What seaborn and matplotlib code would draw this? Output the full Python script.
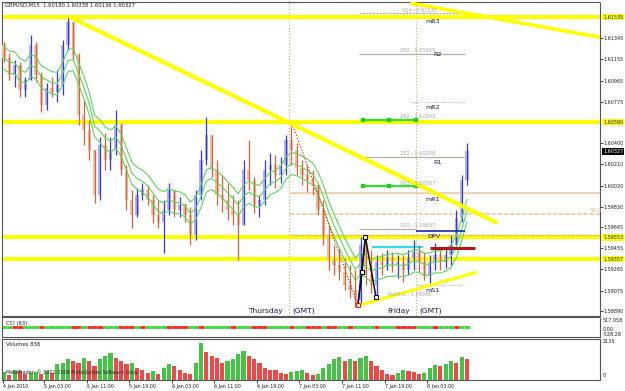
import numpy as np
import pandas as pd
import matplotlib
matplotlib.use("Agg")
import matplotlib.pyplot as plt
import matplotlib.transforms as mtransforms
from matplotlib.patches import Rectangle
import seaborn as sns

sns.set_theme(style="white")
plt.rcParams['font.family'] = ['DejaVu Sans']

# ---------------- data (hourly bars, GBPUSD) ----------------
opens = [1.61285, 1.61168, 1.61015, 1.61105, 1.6088, 1.6097, 1.61285, 1.61015, 1.60745, 1.60898,
         1.60862, 1.60925, 1.61285, 1.61492, 1.61195, 1.60655, 1.6052, 1.6034, 1.59935, 1.60385,
         1.6025, 1.6034, 1.60565, 1.6016, 1.5989, 1.59755, 1.59935, 1.5998, 1.5989, 1.59755,
         1.59692, 1.598, 1.5998, 1.598, 1.59845, 1.59755, 1.59575, 1.59935, 1.6025, 1.60475,
         1.6016, 1.59935, 1.5989, 1.598, 1.59755, 1.59665, 1.6016, 1.6007, 1.59845, 1.5989,
         1.6016, 1.60205, 1.60115, 1.60205, 1.6043, 1.6034, 1.60178, 1.60115, 1.6007, 1.60025,
         1.598, 1.59575, 1.5935, 1.59305, 1.59242, 1.59125, 1.5908, 1.5899, 1.59485, 1.59215,
         1.59125, 1.59332, 1.59305, 1.59368, 1.59305, 1.59332, 1.5926, 1.59368, 1.59422, 1.59332,
         1.59215, 1.59332, 1.59395, 1.59332, 1.59395, 1.59485, 1.59728, 1.6007]
highs = [1.61312, 1.61213, 1.6115, 1.61132, 1.60997, 1.61375, 1.61312, 1.61042, 1.60943, 1.60997,
         1.6106, 1.6133, 1.61528, 1.61492, 1.61213, 1.6079, 1.6061, 1.6034, 1.60457, 1.60493,
         1.60457, 1.607, 1.60583, 1.60205, 1.5998, 1.59998, 1.60043, 1.60025, 1.59935, 1.5989,
         1.5989, 1.60043, 1.5998, 1.59917, 1.59863, 1.59827, 1.5998, 1.6034, 1.60637, 1.60475,
         1.6025, 1.60115, 1.60043, 1.59935, 1.5989, 1.6025, 1.6043, 1.60097, 1.59935, 1.6025,
         1.60313, 1.60295, 1.60277, 1.60475, 1.60583, 1.60403, 1.6025, 1.60205, 1.6016, 1.60043,
         1.5989, 1.59665, 1.59485, 1.59467, 1.59368, 1.59305, 1.5926, 1.59557, 1.5953, 1.5944,
         1.59395, 1.59413, 1.5944, 1.59422, 1.59395, 1.59395, 1.5944, 1.5953, 1.59485, 1.59422,
         1.59395, 1.59503, 1.59458, 1.59467, 1.59575, 1.598, 1.60115, 1.60403]
lows = [1.61132, 1.6097, 1.60907, 1.60817, 1.60817, 1.6097, 1.60952, 1.60682, 1.607, 1.60817,
        1.60772, 1.60835, 1.6124, 1.6115, 1.60565, 1.60385, 1.6025, 1.59863, 1.5989, 1.6016,
        1.6016, 1.60295, 1.60115, 1.598, 1.59638, 1.59737, 1.5989, 1.59845, 1.59683, 1.59638,
        1.59413, 1.59755, 1.59737, 1.59737, 1.59692, 1.59485, 1.5953, 1.5989, 1.60205, 1.60097,
        1.59845, 1.59782, 1.5971, 1.59665, 1.5935, 1.59665, 1.5998, 1.59773, 1.59737, 1.59845,
        1.60025, 1.59998, 1.60043, 1.60115, 1.60205, 1.60115, 1.60025, 1.59962, 1.59935, 1.59755,
        1.59485, 1.5926, 1.59215, 1.5917, 1.5908, 1.59008, 1.58927, 1.58945, 1.59125, 1.59053,
        1.59017, 1.59215, 1.5926, 1.59242, 1.59188, 1.59152, 1.59215, 1.5926, 1.59242, 1.5917,
        1.59143, 1.5926, 1.5926, 1.59278, 1.59305, 1.59485, 1.59692, 1.60025]
closes = [1.61168, 1.61015, 1.61105, 1.6088, 1.6097, 1.61285, 1.61015, 1.60745, 1.60898, 1.60862,
          1.60925, 1.61285, 1.61492, 1.61195, 1.60655, 1.6052, 1.6034, 1.59935, 1.60385, 1.6025,
          1.6034, 1.60565, 1.6016, 1.5989, 1.59755, 1.59935, 1.5998, 1.5989, 1.59755, 1.59692,
          1.598, 1.5998, 1.598, 1.59845, 1.59755, 1.59575, 1.59935, 1.6025, 1.60475, 1.6016,
          1.59935, 1.5989, 1.598, 1.59755, 1.59665, 1.6016, 1.6007, 1.59845, 1.5989, 1.6016,
          1.60205, 1.60115, 1.60205, 1.6043, 1.6034, 1.60178, 1.60115, 1.6007, 1.60025, 1.598,
          1.59575, 1.5935, 1.59305, 1.59242, 1.59125, 1.5908, 1.5899, 1.59485, 1.59215, 1.59125,
          1.59332, 1.59305, 1.59368, 1.59305, 1.59332, 1.5926, 1.59368, 1.59422, 1.59332, 1.59215,
          1.59332, 1.59395, 1.59332, 1.59395, 1.59485, 1.59728, 1.6007, 1.60327]
volumes = [450, 300, 600, 500, 350, 400, 450, 350, 500, 400, 900, 1000,
           1200, 1100, 1000, 1300, 1100, 800, 1200, 1400, 1550, 1300, 1100,
           900, 1000, 700, 600, 400, 500, 350, 700, 900, 800, 550, 400, 350, 1000,
           2135, 1600, 1400, 1300, 1000, 1100, 1200, 1500, 1700, 1400, 1200, 1000,
           700, 600, 550, 400, 350, 450, 500, 550, 400, 300, 350, 700, 900,
           1200, 1350, 1100, 1200, 1100, 1300, 1400, 1100, 800, 600, 350, 300, 400,
           600, 500, 450, 350, 400, 700, 850, 800, 900, 1100, 1000, 1350, 1200]
cci_sign = [1, 1, -1, -1, 1, 1, 1, -1, 1, 1, 1, 1, 1, -1, -1, 1, -1, -1, -1, 1,
            1, 1, -1, -1, -1, 1, -1, 1, 1, 1, 1, -1, -1, -1, -1, 1, 1, -1, 1, 1,
            1, 1, 1, -1, 1, 1, 1, -1, -1, -1, 1, 1, 1, 1, -1, 1, 1, -1, -1, -1,
            1, -1, -1, 1, 1, -1, 1, 1, 1, 1, -1, 1, 1, 1, -1, -1, -1, -1, 1, 1,
            1, -1, 1, 1, 1, -1, 1, 1]

time_tick_pos = [0.3, 8, 16, 24, 32, 40, 48, 56, 64, 72, 80]
time_tick_labels = ["4 Jan 2010", "5 Jan 03:00", "5 Jan 11:00", "5 Jan 19:00", "6 Jan 03:00",
                    "6 Jan 11:00", "6 Jan 19:00", "7 Jan 03:00", "7 Jan 11:00", "7 Jan 19:00",
                    "8 Jan 03:00"]
price_ticks = [1.61345, 1.61155, 1.60965, 1.60775, 1.60400, 1.60210, 1.60020, 1.59830,
               1.59645, 1.59455, 1.59265, 1.59075, 1.58890]
yellow_levels = [1.61535, 1.60590, 1.59553, 1.59357]
current_price = 1.60327
session_lines = [54.06, 77.93]
session_names = ["Thursday", "Friday"]

# trend lines (time in hours, price)
trend_down_t = [12.9, 93.2]
trend_down_p = [1.61535, 1.59683]
trend_top_t = [76.8, 113.0]
trend_top_p = [1.61663, 1.61350]
trend_up_t = [67.4, 89.4]
trend_up_p = [1.58945, 1.59242]
fibo_t = [54.6, 67.0]
fibo_p = [1.60583, 1.58945]
fibo_levels = [1.59957, 1.59764, 1.59571]
pattern_t = [67.0, 68.4, 70.4]
pattern_p = [1.58945, 1.59557, 1.59017]

# pivot-style levels
green_pivots = [1.60610, 1.60016]
green_pivot_marks = [67.97, 72.86, 77.9]

# ---------------- figure ----------------
W, H = 625, 391
fig = plt.figure(figsize=(W / 100, H / 100), dpi=100)
fig.patch.set_facecolor("white")


def rect(l, t, r, b):
    return [l / W, 1 - b / H, (r - l) / W, (b - t) / H]


ax = fig.add_axes(rect(2, 2, 600, 316))
axc = fig.add_axes(rect(2, 317, 600, 337))
axv = fig.add_axes(rect(2, 339, 600, 380))
XL = (0.11, 112.5)
for a in (ax, axc, axv):
    a.set_xlim(*XL)
    a.set_facecolor("white")
    for s in a.spines.values():
        s.set_color("#555555")
        s.set_linewidth(0.8)
        s.set_linestyle((0, (1.5, 0.8)))
ax.set_ylim(1.58846, 1.61672)

n = len(closes)
xs = np.arange(n) + 0.5

# yellow horizontal levels
for lv in yellow_levels:
    ax.axhline(lv, color="#ffff00", lw=3.0, zorder=2)

# session separators
for sx in session_lines:
    ax.axvline(sx, color="#c8bc8c", lw=0.9, ls=(0, (1, 1.5)), zorder=1)

# fibo retracement levels
ax.hlines(fibo_levels[0], 54.25, XL[1], color="#f3c29a", lw=1.1, zorder=2)
ax.hlines(fibo_levels[1], 54.25, XL[1], color="#f3c29a", lw=1.1, ls=(0, (3, 1)), zorder=2)
ax.hlines(fibo_levels[2], 54.25, XL[1], color="#e39a60", lw=0.9, ls=(0, (1, 1)), zorder=2)
ax.plot(fibo_t, fibo_p, color="#e03020", lw=0.9, ls=(0, (1, 1.5)), zorder=6)
ax.text(110.6, 1.59791, "50.0", fontsize=4, color="#e9a878", ha="left", va="center")

# gray pivot lines
ax.hlines(1.61570, 67.2, 87.1, color="#b0b0b0", lw=0.8, ls=(0, (2, 1)), zorder=2)
ax.hlines(1.61204, 67.2, 87.1, color="#b8b0a0", lw=0.9, zorder=2)
ax.hlines(1.60772, 76.8, 87.1, color="#c0c0c0", lw=0.8, ls=(0, (1, 1)), zorder=2)
ax.hlines(1.60277, 67.2, 87.1, color="#b8b0a0", lw=0.9, zorder=2)
ax.hlines(1.59629, 67.2, 77.9, color="#b8b0a0", lw=0.9, zorder=2)
ax.hlines(1.59125, 77.9, 87.1, color="#c0c0c0", lw=0.8, ls=(0, (1, 1)), zorder=2)
ax.hlines(1.59610, 77.9, 87.1, color="#1a2aa8", lw=1.2, zorder=7)
ax.hlines(1.59467, 69.66, 79.25, color="#33dde8", lw=1.6, zorder=3)
ax.hlines(1.59458, 80.56, 89.0, color="#b01818", lw=2.2, zorder=7)
for gp in green_pivots:
    ax.hlines(gp, green_pivot_marks[0], green_pivot_marks[-1], color="#33dd33", lw=1.6, zorder=4)
    sns.scatterplot(x=green_pivot_marks, y=[gp] * 3, ax=ax, marker="s", s=9,
                    color="#22cc22", edgecolor="#22cc22", zorder=5, legend=False)

# candles
for i in range(n):
    up = closes[i] >= opens[i]
    body_c = "#b4b4f2" if up else "#efc2a0"
    wick_c = "#3535f0" if up else "#d8603a"
    lo, hi = min(opens[i], closes[i]), max(opens[i], closes[i])
    ax.add_patch(Rectangle((xs[i] - 0.3, lo), 0.6, max(hi - lo, 0.00003),
                           facecolor=body_c, edgecolor="none", zorder=3))
    ax.vlines(xs[i], lows[i], highs[i], color=wick_c, lw=0.9, zorder=4)

# moving-average envelope (green)
ema = pd.Series(closes).ewm(span=7, adjust=False).mean()
ma_df = pd.DataFrame({"t": xs, "mid": ema, "up": ema + 0.0010, "dn": ema - 0.0010})
for col in ("up", "mid", "dn"):
    sns.lineplot(data=ma_df, x="t", y=col, ax=ax, color="#5cd65c", lw=0.8, zorder=5)

# trend lines
ax.plot(trend_down_t, trend_down_p, color="#ffff00", lw=3.0, solid_capstyle="butt", zorder=6)
ax.plot(trend_top_t, trend_top_p, color="#ffff00", lw=2.6, solid_capstyle="butt", zorder=6)
ax.plot(trend_up_t, trend_up_p, color="#ffff00", lw=2.2, solid_capstyle="butt", zorder=6)

# pattern
ax.plot(pattern_t, pattern_p, color="#111111", lw=1.1, zorder=8)
ax.plot([67.0, 67.8, 68.4], [1.58945, 1.59242, 1.59557], color="#111111", lw=0.9, zorder=8)
ax.plot([pattern_t[0]], [pattern_p[0]], marker="s", ms=2.2, mfc="white", mec="#e02020", mew=0.8, zorder=9)
ax.plot(pattern_t[1:] + [67.8], pattern_p[1:] + [1.59242], ls="none", marker="s", ms=2.2,
        mfc="white", mec="#111111", mew=0.8, zorder=9)

# labels inside main
gray = "#a8a8a8"
navy = "#1c1c50"
fs_g = 3.6
ax.text(75.3, 1.61575, "424 - 1.61535", fontsize=fs_g, color=gray, va="bottom", zorder=9)
ax.text(79.6, 1.61500, "mR3", fontsize=4.6, color=navy, va="center", zorder=9)
ax.text(74.9, 1.61210, "362 - 1.61265", fontsize=fs_g, color=gray, va="bottom", zorder=9)
ax.text(81.1, 1.61200, "R2", fontsize=4.6, color=navy, va="center", zorder=9)
ax.text(79.6, 1.60720, "mR2", fontsize=4.6, color=navy, va="center", zorder=9)
ax.text(74.9, 1.60615, "262 - 1.60606", fontsize=fs_g, color=gray, va="bottom", zorder=9)
ax.text(74.9, 1.60285, "212 - 1.60308", fontsize=fs_g, color=gray, va="bottom", zorder=9)
ax.text(81.1, 1.60230, "R1", fontsize=4.6, color=navy, va="center", zorder=9)
ax.text(74.9, 1.60020, "162 - 1.60007", fontsize=fs_g, color=gray, va="bottom", zorder=9)
ax.text(79.6, 1.59895, "mR1", fontsize=4.6, color=navy, va="center", zorder=9)
ax.text(74.9, 1.59635, "100 - 1.59637", fontsize=fs_g, color=gray, va="bottom", zorder=9)
ax.text(80.0, 1.59560, "DPV", fontsize=4.6, color=navy, va="center", zorder=9)
ax.text(79.6, 1.59080, "mS1", fontsize=4.6, color=navy, va="center", zorder=9)
ax.text(72.7, 1.59040, "Point C - 1.59038", fontsize=fs_g, color=gray, va="center", zorder=9)

for sx, nm in zip(session_lines, session_names):
    ax.text(sx - 1.2, 1.58890, nm, fontsize=5.4, color=navy, ha="right", va="center", zorder=9)
    ax.text(sx + 0.6, 1.58890, "(GMT)", fontsize=5.4, color=navy, ha="left", va="center", zorder=9)

ax.text(0.6, 1.61645, "GBPUSD,M15  1.60180 1.60338 1.60136 1.60327", fontsize=3.8,
        color="#222222", va="center", zorder=9)

# right price axis
rfs = 3.5
ax.yaxis.tick_right()
ax.set_yticks(price_ticks)
ax.set_yticklabels([f"{p:.5f}" for p in price_ticks])
ax.tick_params(axis="y", labelsize=rfs, length=2, width=0.6, pad=0.8, colors="#222222")
ax.set_xticks([])
ax.set_xlabel("")
ax.set_ylabel("")
btr = mtransforms.blended_transform_factory(ax.transAxes, ax.transData)
for lv in yellow_levels:
    ax.text(1.005, lv, f"{lv:.5f}", transform=btr, fontsize=rfs, color="#222222", va="center",
            ha="left", bbox=dict(boxstyle="square,pad=0.12", fc="#ffff00", ec="none"), clip_on=False)
ax.text(1.005, current_price, f"{current_price:.5f}", transform=btr, fontsize=rfs, color="white",
        va="center", ha="left", bbox=dict(boxstyle="square,pad=0.12", fc="#000000", ec="none"),
        clip_on=False)

# CCI panel
axc.set_ylim(-1, 1)
for i in range(n):
    axc.hlines(0, i, i + 1, color="#33dd33" if cci_sign[i] > 0 else "#ff2020", lw=2.0)
axc.set_xticks([])
axc.set_yticks([])
axc.text(0.007, 0.82, "CCI (63)", transform=axc.transAxes, fontsize=3.8, color="#222222", va="top")
axc.text(1.005, 0.85, "517.058", transform=axc.transAxes, fontsize=rfs, color="#222222", va="center")
axc.text(1.005, 0.38, "0.00", transform=axc.transAxes, fontsize=rfs, color="#222222", va="center")
axc.text(1.005, 0.12, "-528.28", transform=axc.transAxes, fontsize=rfs, color="#222222", va="center")

# Volumes panel
vol_colors = ["#44c444" if (i == 0 or volumes[i] > volumes[i - 1]) else "#f04848" for i in range(n)]
axv.bar(xs, volumes, width=0.78, color=vol_colors, edgecolor="none", zorder=2)
axv.set_ylim(0, 2370)
axv.set_yticks([])
axv.text(0.007, 0.93, "Volumes 838", transform=axv.transAxes, fontsize=3.8, color="#222222", va="top")
axv.text(0.007, 0.18, "MetaTrader, \u00a9 2001-2009 MetaQuotes Software Corp.", transform=axv.transAxes,
         fontsize=3.5, color="#222222", va="center", zorder=5)
axv.text(1.005, 0.93, "2135", transform=axv.transAxes, fontsize=rfs, color="#222222", va="center")
axv.text(1.005, 0.10, "0", transform=axv.transAxes, fontsize=rfs, color="#222222", va="center")
axv.set_xticks(time_tick_pos)
axv.set_xticklabels(time_tick_labels)
axv.tick_params(axis="x", labelsize=3.4, length=2, width=0.6, pad=1.2, colors="#222222", bottom=True)
for lbl in axv.get_xticklabels():
    lbl.set_ha("left")
axv.set_xlabel("")
axv.set_ylabel("")

fig.savefig("out.png", dpi=100, facecolor="white")
